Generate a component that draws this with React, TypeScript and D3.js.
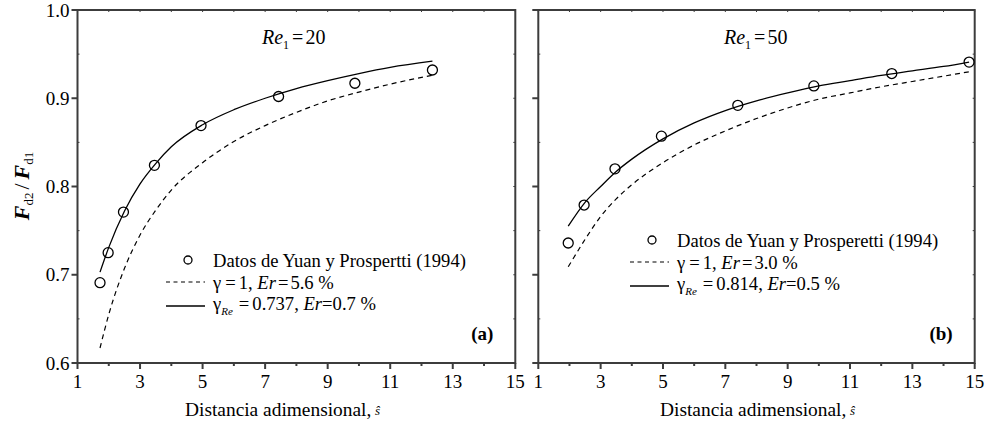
import React from "react";
import * as d3 from "d3";

// Observed drag-force ratio (Yuan & Prosperetti, 1994)
const sDataRe20 = [1.72, 1.98, 2.47, 3.46, 4.95, 7.43, 9.87, 12.35];
const fDataRe20 = [0.691, 0.725, 0.771, 0.824, 0.869, 0.902, 0.917, 0.932];
const sDataRe50 = [1.96, 2.47, 3.46, 4.95, 7.4, 9.84, 12.34, 14.82];
const fDataRe50 = [0.736, 0.779, 0.82, 0.857, 0.892, 0.914, 0.928, 0.941];

// Model curves
const sModelRe20 = [1.72, 2.0, 2.5, 3.0, 3.5, 4.0, 5.0, 6.0, 7.0, 8.0, 9.0, 10.0, 11.0, 12.35];
const fUnitRe20 = [0.617, 0.655, 0.707, 0.745, 0.773, 0.796, 0.827, 0.851, 0.869, 0.884, 0.897, 0.907, 0.916, 0.926];
const fFitRe20 = [0.703, 0.731, 0.772, 0.803, 0.826, 0.845, 0.87, 0.887, 0.9, 0.911, 0.92, 0.928, 0.935, 0.942];
const sModelRe50 = [1.96, 2.5, 3.0, 3.5, 4.0, 5.0, 6.0, 7.0, 8.0, 9.0, 10.0, 11.0, 12.0, 13.0, 14.0, 14.82];
const fUnitRe50 = [0.709, 0.74, 0.766, 0.786, 0.802, 0.827, 0.847, 0.863, 0.877, 0.889, 0.899, 0.906, 0.913, 0.919, 0.925, 0.93];
const fFitRe50 = [0.755, 0.782, 0.8, 0.817, 0.831, 0.854, 0.872, 0.886, 0.897, 0.906, 0.914, 0.92, 0.926, 0.931, 0.936, 0.941];

const xMajorTicks = [1, 3, 5, 7, 9, 11, 13, 15];
const xMinorTicks = [2, 4, 6, 8, 10, 12, 14];
const yMajorTicks = [0.6, 0.7, 0.8, 0.9, 1.0];
const yMinorTicks = [0.65, 0.75, 0.85, 0.95];

const FONT = "'Liberation Serif', 'Times New Roman', serif";
const AXIS = "#3c3c3c";
const TICK_FS = 19;
const LEG_FS = 18.6;

type PanelProps = {
  x0: number;
  x1: number;
  showYLabels: boolean;
  sData: number[];
  fData: number[];
  sModel: number[];
  fUnit: number[];
  fFit: number[];
  re: string;
  reX: number;
  titleX: number;
  tag: string;
  legend: { cx: number; cy: number; ref: string; unitText: string; gamma: string; er: string };
};

const Y_TOP = 10;
const Y_BOT = 363;

function Panel(p: PanelProps) {
  const x = d3.scaleLinear().domain([1, 15]).range([p.x0, p.x1]);
  const y = d3.scaleLinear().domain([0.6, 1.0]).range([Y_BOT, Y_TOP]);
  const line = d3
    .line<number>()
    .x((_, i) => x(p.sModel[i]))
    .curve(d3.curveMonotoneX);
  const unitPath = line.y((v) => y(v))(p.fUnit) || "";
  const fitPath = line.y((v) => y(v))(p.fFit) || "";
  const L = p.legend;

  return (
    <g>
      {/* frame */}
      <rect x={p.x0} y={Y_TOP} width={p.x1 - p.x0} height={Y_BOT - Y_TOP} fill="none" stroke={AXIS} strokeWidth={2} />
      {/* y ticks */}
      {yMajorTicks.map((t) => (
        <g key={"ym" + t}>
          <line x1={p.x0 - 6} x2={p.x0} y1={y(t)} y2={y(t)} stroke={AXIS} strokeWidth={2} />
          <line x1={p.x1} x2={p.x1 - 2} y1={y(t)} y2={y(t)} stroke={AXIS} strokeWidth={1} />
          {p.showYLabels && (
            <text x={p.x0 - 8} y={y(t)} dy="0.35em" textAnchor="end" fontSize={TICK_FS} fontFamily={FONT}>
              {t.toFixed(1)}
            </text>
          )}
        </g>
      ))}
      {yMinorTicks.map((t) => (
        <g key={"yn" + t}>
          <line x1={p.x0} x2={p.x0 + 2} y1={y(t)} y2={y(t)} stroke={AXIS} strokeWidth={1} />
          <line x1={p.x1} x2={p.x1 - 2} y1={y(t)} y2={y(t)} stroke={AXIS} strokeWidth={1} />
        </g>
      ))}
      {/* x ticks */}
      {xMajorTicks.map((t) => (
        <g key={"xm" + t}>
          <line x1={x(t)} x2={x(t)} y1={Y_BOT} y2={Y_BOT + 6} stroke={AXIS} strokeWidth={2} />
          <line x1={x(t)} x2={x(t)} y1={Y_TOP} y2={Y_TOP + 2} stroke={AXIS} strokeWidth={1} />
          <text x={x(t)} y={Y_BOT + 25} textAnchor="middle" fontSize={TICK_FS} fontFamily={FONT}>
            {t}
          </text>
        </g>
      ))}
      {xMinorTicks.map((t) => (
        <g key={"xn" + t}>
          <line x1={x(t)} x2={x(t)} y1={Y_BOT} y2={Y_BOT + 3} stroke={AXIS} strokeWidth={2} />
          <line x1={x(t)} x2={x(t)} y1={Y_TOP} y2={Y_TOP + 2} stroke={AXIS} strokeWidth={1} />
        </g>
      ))}
      {/* x axis title */}
      <text x={p.titleX} y={416} fontSize={19.4} fontFamily={FONT}>
        Distancia adimensional,
      </text>
      <text x={p.titleX + 190} y={415} fontSize={13} fontStyle="italic" fontFamily={FONT}>
        ŝ
      </text>

      {/* model curves */}
      <path d={unitPath} fill="none" stroke="#000" strokeWidth={1.2} strokeDasharray="5,4" />
      <path d={fitPath} fill="none" stroke="#000" strokeWidth={1.3} />
      {/* data */}
      {p.sData.map((s, i) => (
        <circle key={"d" + i} cx={x(s)} cy={y(p.fData[i])} r={5} fill="none" stroke="#000" strokeWidth={1.3} />
      ))}

      {/* Reynolds number label */}
      <text x={p.reX} y={44} fontSize={20} fontFamily={FONT}>
        <tspan fontStyle="italic">Re</tspan>
        <tspan fontSize={12} dy={5}>1</tspan>
        <tspan dy={-5} dx={3}>=</tspan>
        <tspan dx={2}>{p.re}</tspan>
      </text>

      {/* legend */}
      <circle cx={L.cx} cy={L.cy} r={4} fill="none" stroke="#000" strokeWidth={1.3} />
      <text x={L.cx + 25} y={L.cy + 7} fontSize={LEG_FS} fontFamily={FONT}>
        {L.ref}
      </text>
      <line x1={L.cx - 22} x2={L.cx + 17} y1={L.cy + 22} y2={L.cy + 22} stroke="#000" strokeWidth={1.2} strokeDasharray="4,3.5" />
      <text x={L.cx + 25} y={L.cy + 28.5} fontSize={LEG_FS} fontFamily={FONT}>
        γ<tspan dx={4}>=</tspan>
        <tspan dx={3}>1,</tspan> <tspan fontStyle="italic">Er</tspan>
        <tspan dx={2}>=</tspan>
        <tspan dx={2}>{L.unitText}</tspan>
      </text>
      <line x1={L.cx - 22} x2={L.cx + 17} y1={L.cy + 46} y2={L.cy + 46} stroke="#000" strokeWidth={1.3} />
      <text x={L.cx + 25} y={L.cy + 50} fontSize={LEG_FS} fontFamily={FONT}>
        γ
        <tspan fontStyle="italic" fontSize={11} dy={5}>Re</tspan>
        <tspan dy={-5} dx={6}>=</tspan>
        <tspan dx={3}>{L.gamma},</tspan> <tspan fontStyle="italic">Er</tspan>
        <tspan>=</tspan>
        <tspan>{L.er}</tspan>
      </text>

      {/* panel tag */}
      <text x={p.x1 - 22} y={340} textAnchor="end" fontSize={19} fontWeight="bold" fontFamily={FONT}>
        ({p.tag})
      </text>
    </g>
  );
}

export default function App() {
  return (
    <svg width={986} height={428} style={{ position: "absolute", left: 0, top: 0, background: "#fff" }}>
      <rect width={986} height={428} fill="#fff" />
      <Panel
        x0={77.5}
        x1={515.3}
        showYLabels={true}
        sData={sDataRe20}
        fData={fDataRe20}
        sModel={sModelRe20}
        fUnit={fUnitRe20}
        fFit={fFitRe20}
        re="20"
        reX={262}
        titleX={185}
        tag="a"
        legend={{ cx: 188, cy: 260, ref: "Datos de Yuan y Prospertti (1994)", unitText: "5.6 %", gamma: "0.737", er: "0.7 %" }}
      />
      <Panel
        x0={538.3}
        x1={974.7}
        showYLabels={false}
        sData={sDataRe50}
        fData={fDataRe50}
        sModel={sModelRe50}
        fUnit={fUnitRe50}
        fFit={fFitRe50}
        re="50"
        reX={724}
        titleX={660}
        tag="b"
        legend={{ cx: 652, cy: 240, ref: "Datos de Yuan y Prosperetti (1994)", unitText: "3.0 %", gamma: "0.814", er: "0.5 %" }}
      />
      {/* y axis title */}
      <text transform="translate(29,186) rotate(-90)" textAnchor="middle" fontSize={22} fontFamily={FONT}>
        <tspan fontStyle="italic" fontWeight="bold">F</tspan>
        <tspan fontSize={13} dy={4}>d2</tspan>
        <tspan dy={-4} dx={3}>/</tspan>
        <tspan dx={4} fontStyle="italic" fontWeight="bold">F</tspan>
        <tspan fontSize={13} dy={4}>d1</tspan>
      </text>
    </svg>
  );
}
